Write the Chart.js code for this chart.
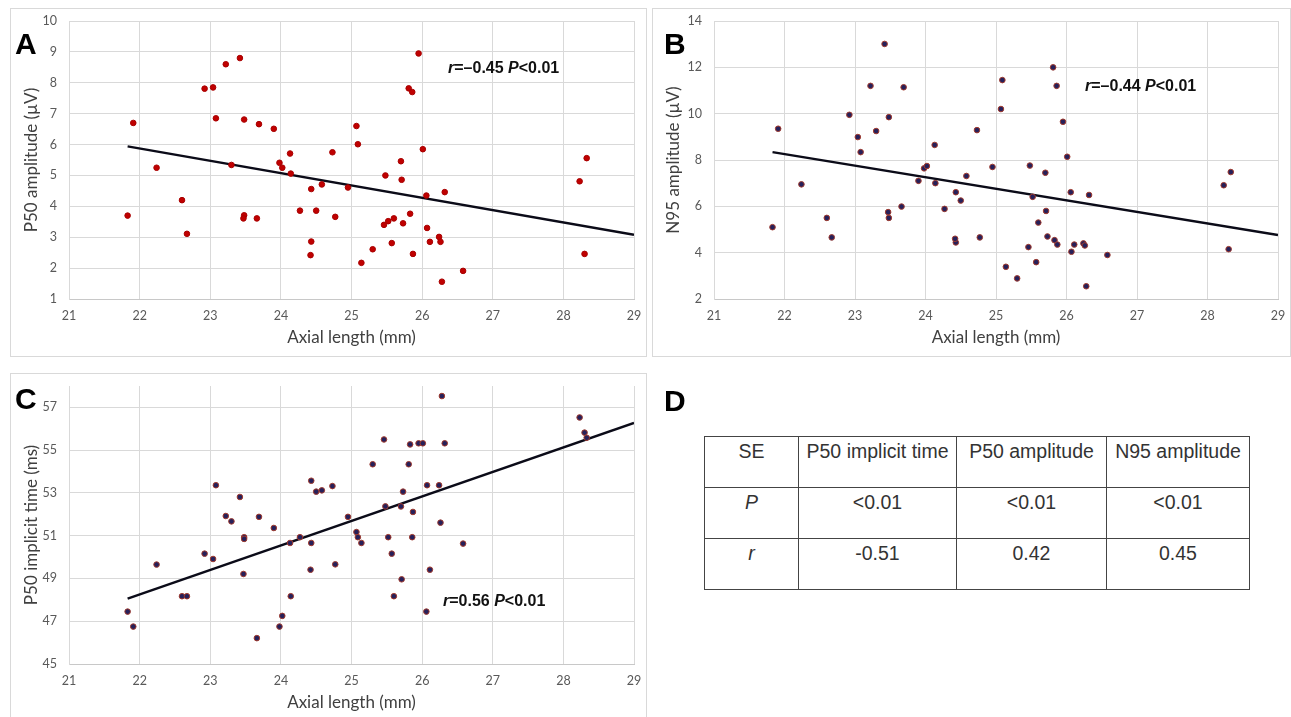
<!DOCTYPE html>
<html>
<head>
<meta charset="utf-8">
<script src="https://cdn.jsdelivr.net/npm/chart.js@4.4.0/dist/chart.umd.min.js"></script>
<style>
  body { margin: 0; background: #fff; width: 1291px; height: 717px; overflow: hidden; position: relative; }
  .panel { position: absolute; outline: 1px solid #d9d9d9; }
  .panel canvas { position: absolute; left: 0; top: 0; }
  .letter { position: absolute; font: bold 30px "Liberation Sans", Arial, sans-serif; color: #000; line-height: 30px; }
  .note { position: absolute; font: bold 16px "Liberation Sans", Arial, sans-serif; color: #111; line-height: 16px; white-space: nowrap; }
  table { position: absolute; left: 704px; top: 436px; border-collapse: collapse; font: 19.5px "Liberation Sans", Arial, sans-serif; color: #333; }
  td { border: 1.5px solid #444; height: 51px; padding: 3px 0 0 0; vertical-align: top; text-align: center; line-height: 22px; box-sizing: border-box; }
</style>
</head>
<body>

<div class="panel" style="left:11px;top:9px;width:635px;height:347px"><canvas id="chartA" width="635" height="347"></canvas></div>
<div class="panel" style="left:653px;top:9px;width:637px;height:347px"><canvas id="chartB" width="637" height="347"></canvas></div>
<div class="panel" style="left:11px;top:374px;width:635px;height:347px"><canvas id="chartC" width="635" height="347"></canvas></div>

<div class="letter" style="left:15px;top:29px">A</div>
<div class="letter" style="left:664px;top:29px">B</div>
<div class="letter" style="left:15px;top:384px">C</div>
<div class="letter" style="left:664px;top:386px">D</div>

<div class="note" style="left:448px;top:60px"><i>r</i>=–0.45 <i>P</i>&lt;0.01</div>
<div class="note" style="left:1085px;top:78px"><i>r</i>=–0.44 <i>P</i>&lt;0.01</div>
<div class="note" style="left:443px;top:593px"><i>r</i>=0.56 <i>P</i>&lt;0.01</div>

<table>
  <tr><td style="width:94px">SE</td><td style="width:158px">P50 implicit time</td><td style="width:150px">P50 amplitude</td><td style="width:143px">N95 amplitude</td></tr>
  <tr><td><i>P</i></td><td>&lt;0.01</td><td>&lt;0.01</td><td>&lt;0.01</td></tr>
  <tr><td><i>r</i></td><td>-0.51</td><td>0.42</td><td>0.45</td></tr>
</table>

<script>
// axial length of each eye (shared by the three panels)
var axialLength = [21.83, 21.91, 22.24, 22.60, 22.67, 22.92, 23.04, 23.08, 23.22, 23.30,
  23.42, 23.48, 23.48, 23.47, 23.69, 23.66, 23.90, 23.98, 24.02, 24.13,
  24.14, 24.27, 24.43, 24.43, 24.42, 24.50, 24.58, 24.73, 24.77, 24.95,
  25.07, 25.09, 25.14, 25.30, 25.46, 25.48, 25.52, 25.57, 25.60, 25.70,
  25.71, 25.73, 25.81, 25.83, 25.86, 25.87, 25.95, 26.01, 26.06, 26.07,
  26.11, 26.24, 26.26, 26.28, 26.32, 26.58, 28.23, 28.30, 28.33];

var p50Amplitude = [3.70, 6.70, 5.25, 4.20, 3.11, 7.81, 7.85, 6.85, 8.60, 5.34,
  8.80, 6.81, 3.71, 3.61, 6.66, 3.61, 6.51, 5.41, 5.25, 5.71,
  5.06, 3.86, 4.56, 2.86, 2.42, 3.86, 4.71, 5.75, 3.66, 4.61,
  6.60, 6.01, 2.17, 2.61, 3.40, 5.00, 3.52, 2.81, 3.61, 5.46,
  4.86, 3.45, 7.82, 3.76, 7.70, 2.46, 8.95, 5.85, 4.35, 3.30,
  2.85, 3.01, 2.85, 1.56, 4.46, 1.91, 4.81, 2.46, 5.56];

var n95Amplitude = [5.10, 9.35, 6.95, 5.50, 4.66, 9.95, 8.99, 8.34, 11.20, 9.25,
  13.01, 9.85, 5.50, 5.75, 11.14, 5.99, 7.10, 7.64, 7.74, 8.65,
  7.00, 5.89, 6.61, 4.44, 4.60, 6.25, 7.31, 9.29, 4.66, 7.70,
  10.20, 11.45, 3.39, 2.89, 4.24, 7.76, 6.41, 3.59, 5.30, 7.45,
  5.80, 4.70, 12.00, 4.54, 11.20, 4.35, 9.65, 8.14, 6.61, 4.04,
  4.35, 4.40, 4.31, 2.55, 6.49, 3.90, 6.91, 4.15, 7.48];

var p50ImplicitTime = [47.45, 46.75, 49.65, 48.17, 48.17, 50.16, 49.91, 53.36, 51.92, 51.67,
  52.81, 50.93, 50.85, 49.21, 51.88, 46.21, 51.36, 46.75, 47.25, 50.66,
  48.17, 50.93, 53.57, 50.66, 49.41, 53.06, 53.12, 53.32, 49.66, 51.88,
  51.17, 50.93, 50.66, 54.34, 55.50, 52.37, 50.93, 50.16, 48.17, 52.37,
  48.96, 53.06, 54.34, 55.27, 50.93, 52.11, 55.32, 55.32, 47.45, 53.36,
  49.41, 53.36, 51.61, 57.53, 55.32, 50.63, 56.53, 55.82, 55.58];

// trend line ends
var trendX = [21.83, 29];
var trendA = [5.94, 3.08];
var trendB = [8.34, 4.76];
var trendC = [48.06, 56.27];

// tick labels
var xTicks = [21, 22, 23, 24, 25, 26, 27, 28, 29];
var yTicksA = [1, 2, 3, 4, 5, 6, 7, 8, 9, 10];
var yTicksB = [2, 4, 6, 8, 10, 12, 14];
var yTicksC = [45, 47, 49, 51, 53, 55, 57];

Chart.defaults.font.family = 'Lato';
Chart.defaults.animation = false;

function pairs(xs, ys) {
  var out = [];
  for (var i = 0; i < xs.length; i++) out.push({x: xs[i], y: ys[i]});
  return out;
}

function makePanel(id, ys, trend, yTicks, yMin, yMax, yTitle, fill, edge, yWidth) {
  var ctx = document.getElementById(id).getContext('2d');
  return new Chart(ctx, {
    type: 'scatter',
    data: {
      datasets: [{
        data: pairs(axialLength, ys),
        backgroundColor: fill,
        borderColor: edge,
        borderWidth: 1,
        pointRadius: 2.8
      }, {
        data: pairs(trendX, trend),
        showLine: true,
        borderColor: '#0b0b18',
        borderWidth: 2.4,
        pointRadius: 0
      }]
    },
    options: {
      responsive: false,
      layout: { padding: { left: 0, top: 12, right: 12, bottom: 0 } },
      plugins: { legend: { display: false }, tooltip: { enabled: false } },
      scales: {
        x: {
          min: 21, max: 29,
          afterBuildTicks: function (s) { s.ticks = xTicks.map(function (v) { return {value: v}; }); },
          afterFit: function (s) { s.height = 57; },
          // tick marks kept invisible, they only push the labels down
          grid: { color: '#d9d9d9', drawTicks: true, tickLength: 9, tickColor: 'rgba(0,0,0,0)' },
          border: { color: '#c8c8c8' },
          ticks: { color: '#595959', font: { size: 12.5 }, padding: 0, maxRotation: 0 },
          title: { display: true, text: 'Axial length (mm)', color: '#404040', font: { size: 17 }, padding: { top: 0, bottom: 8 } }
        },
        y: {
          min: yMin, max: yMax,
          afterBuildTicks: function (s) { s.ticks = yTicks.map(function (v) { return {value: v}; }); },
          afterFit: function (s) { s.width = yWidth; },
          grid: { color: '#d9d9d9', drawTicks: true, tickLength: 12, tickColor: 'rgba(0,0,0,0)' },
          border: { color: '#d9d9d9' },
          ticks: { color: '#595959', font: { size: 12.5 }, padding: 0 },
          title: { display: true, text: yTitle, color: '#404040', font: { size: 17 }, padding: { top: 10, bottom: 0 } }
        }
      }
    }
  });
}

makePanel('chartA', p50Amplitude, trendA, yTicksA, 1, 10, 'P50 amplitude (\u00b5V)', '#c00000', '#a80000', 58);
makePanel('chartB', n95Amplitude, trendB, yTicksB, 2, 14, 'N95 amplitude (\u00b5V)', '#26205a', '#a03a2e', 61);
makePanel('chartC', p50ImplicitTime, trendC, yTicksC, 45, 58, 'P50 implicit time (ms)', '#26205a', '#a03a2e', 58);
</script>
</body>
</html>
